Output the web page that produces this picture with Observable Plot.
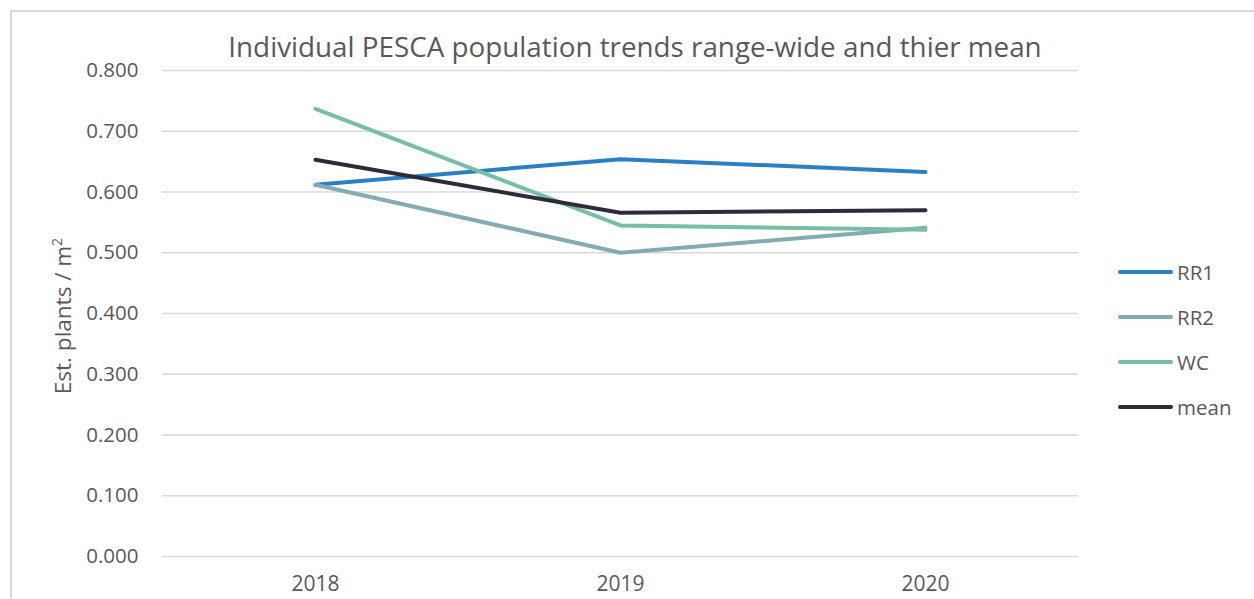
<!DOCTYPE html>
<html>
<head>
<meta charset="utf-8">
<script src="https://cdn.jsdelivr.net/npm/d3@7"></script>
<script src="https://cdn.jsdelivr.net/npm/@observablehq/plot@0.6"></script>
<style>
  html, body { margin: 0; padding: 0; background: #fff; }
  #wrap { position: relative; width: 1254px; height: 599px; overflow: hidden; font-family: "Open Sans", sans-serif; color: #595959; }
  #border { position: absolute; left: 10px; top: 10px; width: 1300px; height: 700px; border: 2px solid #d9d9d9; box-sizing: border-box; }
  #title { position: absolute; left: 0; width: 1270px; top: 27px; text-align: center; font-size: 27.8px; white-space: nowrap; }
  #legend { position: absolute; left: 1118px; top: 249px; font-size: 20.5px; }
  .item { display: flex; align-items: center; height: 45px; }
  .swatch { width: 55px; height: 4px; border-radius: 2px; margin-right: 4px; }
  #chart { position: absolute; left: 0; top: 0; }
</style>
</head>
<body>
<div id="wrap">
  <div id="border"></div>
  <div id="chart"></div>
  <div id="title">Individual PESCA population trends range-wide and thier mean</div>
  <div id="legend"></div>
</div>
<script>
const years = ["2018", "2019", "2020"];
const seriesNames = ["RR1", "RR2", "WC", "mean"];
const rr1 = [0.612, 0.654, 0.633];
const rr2 = [0.612, 0.500, 0.541];
const wc = [0.737, 0.545, 0.538];
const meanVals = [0.653, 0.566, 0.570];
const colors = ["#2A7FC4", "#82ABB6", "#76BFA3", "#2D2B3A"];
const yTicks = [0, 0.1, 0.2, 0.3, 0.4, 0.5, 0.6, 0.7, 0.8];

const allSeries = [rr1, rr2, wc, meanVals];
const data = [];
seriesNames.forEach((name, i) => {
  years.forEach((yr, j) => data.push({series: name, year: yr, value: allSeries[i][j]}));
});

const plot = Plot.plot({
  width: 1254,
  height: 599,
  marginLeft: 162,
  marginRight: 176,
  marginTop: 70,
  marginBottom: 43,
  style: {fontFamily: "Open Sans, sans-serif", color: "#595959", background: "transparent"},
  x: {type: "point", domain: years, padding: 0.5},
  y: {domain: [0, 0.8]},
  color: {domain: seriesNames, range: colors},
  marks: [
    Plot.gridY(yTicks, {stroke: "#d9d9d9", strokeOpacity: 1, strokeWidth: 1.5}),
    Plot.axisY(yTicks, {tickFormat: d3.format(".3f"), tickSize: 0, tickPadding: 24, fontSize: 20.5, fill: "#595959", label: null}),
    Plot.axisX(years, {tickSize: 0, tickPadding: 20, fontSize: 21, fill: "#595959", label: null}),
    Plot.line(data, {x: "year", y: "value", z: "series", stroke: "series", strokeWidth: 4, strokeLinecap: "round", strokeLinejoin: "round"})
  ]
});
document.getElementById("chart").appendChild(plot);

// y-axis title
d3.select(plot).append("text")
  .attr("transform", "translate(71,316) rotate(-90)")
  .attr("text-anchor", "middle")
  .attr("font-size", 22.5)
  .attr("fill", "#595959")
  .attr("font-family", "Open Sans, sans-serif")
  .html('Est. plants / m<tspan dy="-9" font-size="14">2</tspan>');

// legend
const legend = d3.select("#legend");
seriesNames.forEach((name, i) => {
  const item = legend.append("div").attr("class", "item");
  item.append("div").attr("class", "swatch").style("background", colors[i]);
  item.append("span").text(name);
});
</script>
</body>
</html>
